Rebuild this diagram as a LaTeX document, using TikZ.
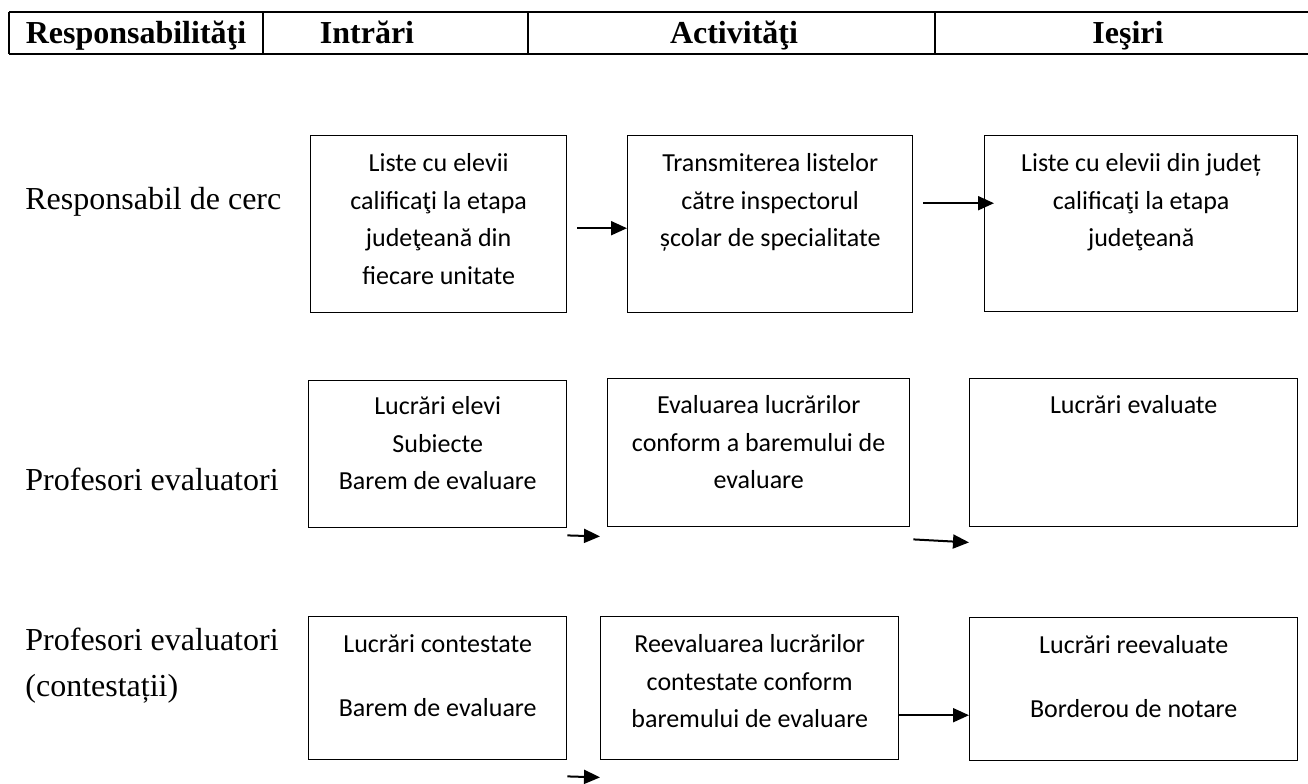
\documentclass[tikz,border=0pt]{standalone}
\usepackage{fontspec}
\setmainfont{Liberation Serif}
\newfontfamily\boxfont{Carlito}
\usetikzlibrary{math,arrows.meta}
\tikzset{
  box/.style={draw, line width=0.7pt, inner sep=0pt, anchor=north west},
  boxtext/.style={anchor=north, inner sep=0pt, align=center, font=\boxfont\fontsize{13}{18.8}\selectfont},
  rowlabel/.style={anchor=north west, inner sep=0pt, align=left, font=\fontsize{16}{23}\selectfont},
  headtext/.style={anchor=base, inner sep=0pt, font=\bfseries\fontsize{16}{19}\selectfont},
  flow/.style={-{Triangle[length=8pt,width=7pt]}, line width=1pt}
}
\newcommand{\boxstrut}{\rule{0pt}{10pt}}
\newcommand{\lblstrut}{\rule{0pt}{12pt}}

\begin{document}
\begin{tikzpicture}[x=0.5pt, y=-0.5pt]
      \tikzmath{\htop = 12; \hbot = 54; \hbase = 43;}
      \fill[white] (0,0) rectangle (1308,783);
      \useasboundingbox (0,0) rectangle (1308,783);
      \draw[line width=1.2pt] (9,\htop) -- (1308,\htop);
      \draw[line width=1.2pt] (9,\hbot) -- (1308,\hbot);
      \foreach \x in {9,263,528,935}
        \draw[line width=1pt] (\x,\htop) -- (\x,\hbot);
      \node[headtext] (hresp) at (136,\hbase) {Responsabilităţi};
      \node[headtext] (hin) at (367,\hbase) {Intrări};
      \node[headtext] (hact) at (734,\hbase) {Activităţi};
      \node[headtext] (hout) at (1128,\hbase) {Ieşiri};
      \node[rowlabel] (resp) at (25,185) {\lblstrut Responsabil de cerc};
      \node[rowlabel] (prof) at (25,466) {\lblstrut Profesori evaluatori};
      \node[rowlabel] (cont) at (25,626) {\lblstrut Profesori evaluatori\\(contestații)};
      \node[box, minimum width=128pt, minimum height=88.5pt] (in1) at (310,135) {};
      \node[box, minimum width=142.5pt, minimum height=88.5pt] (act1) at (627,135) {};
      \node[box, minimum width=156.5pt, minimum height=88pt] (out1) at (984,135) {};
      \node[box, minimum width=129pt, minimum height=73.5pt] (in2) at (308,380) {};
      \node[box, minimum width=151pt, minimum height=74pt] (act2) at (607,378) {};
      \node[box, minimum width=164pt, minimum height=74pt] (out2) at (969,378) {};
      \node[box, minimum width=129pt, minimum height=71.5pt] (in3) at (308,616) {};
      \node[box, minimum width=149pt, minimum height=71.5pt] (act3) at (600,616) {};
      \node[box, minimum width=164pt, minimum height=71.5pt] (out3) at (969,617) {};
      \node[boxtext] (in1t) at ([yshift=-8pt]in1.north) {\boxstrut Liste cu elevii\\calificaţi la etapa\\judeţeană din\\fiecare unitate};
      \node[boxtext] (act1t) at ([yshift=-8pt]act1.north) {\boxstrut Transmiterea listelor\\către inspectorul\\școlar de specialitate};
      \node[boxtext] (out1t) at ([yshift=-8pt]out1.north) {\boxstrut Liste cu elevii din județ\\calificaţi la etapa\\judeţeană};
      \node[boxtext] (in2t) at ([yshift=-7pt]in2.north) {\boxstrut Lucrări elevi\\Subiecte\\Barem de evaluare};
      \node[boxtext] (act2t) at ([yshift=-7.5pt]act2.north) {\boxstrut Evaluarea lucrărilor\\conform a baremului de\\evaluare};
      \node[boxtext] (out2t) at ([yshift=-7.5pt]out2.north) {\boxstrut Lucrări evaluate};
      \node[boxtext] (in3t) at ([yshift=-8pt]in3.north) {\boxstrut Lucrări contestate\\[13.2pt]Barem de evaluare};
      \node[boxtext] (act3t) at ([yshift=-8pt]act3.north) {\boxstrut Reevaluarea lucrărilor\\contestate conform\\baremului de evaluare};
      \node[boxtext] (out3t) at ([yshift=-8pt]out3.north) {\boxstrut Lucrări reevaluate\\[13.2pt]Borderou de notare};
      \draw[flow] ([xshift=5pt,yshift=-2pt]in1.east) -- ([yshift=-2pt]act1.west);
      \draw[flow] ([xshift=5pt,yshift=10.5pt]act1.east) -- ([xshift=5pt,yshift=10.5pt]act1.east -| out1.west);
      \draw[flow] ([yshift=-3.5pt]in2.south east) -- ([xshift=-3.5pt,yshift=-4.5pt]act2.south west);
      \draw[flow] ([xshift=1.5pt,yshift=-6pt]act2.south east) -- ([yshift=-7.5pt]out2.south west);
      \draw[flow] ([yshift=-13.5pt]act3.east) -- ([yshift=-13.5pt]act3.east -| out3.west);
      \draw[flow] ([yshift=-8pt]in3.south east) -- ([xshift=-0pt,yshift=-8.5pt]act3.south west);
\end{tikzpicture}
\end{document}
